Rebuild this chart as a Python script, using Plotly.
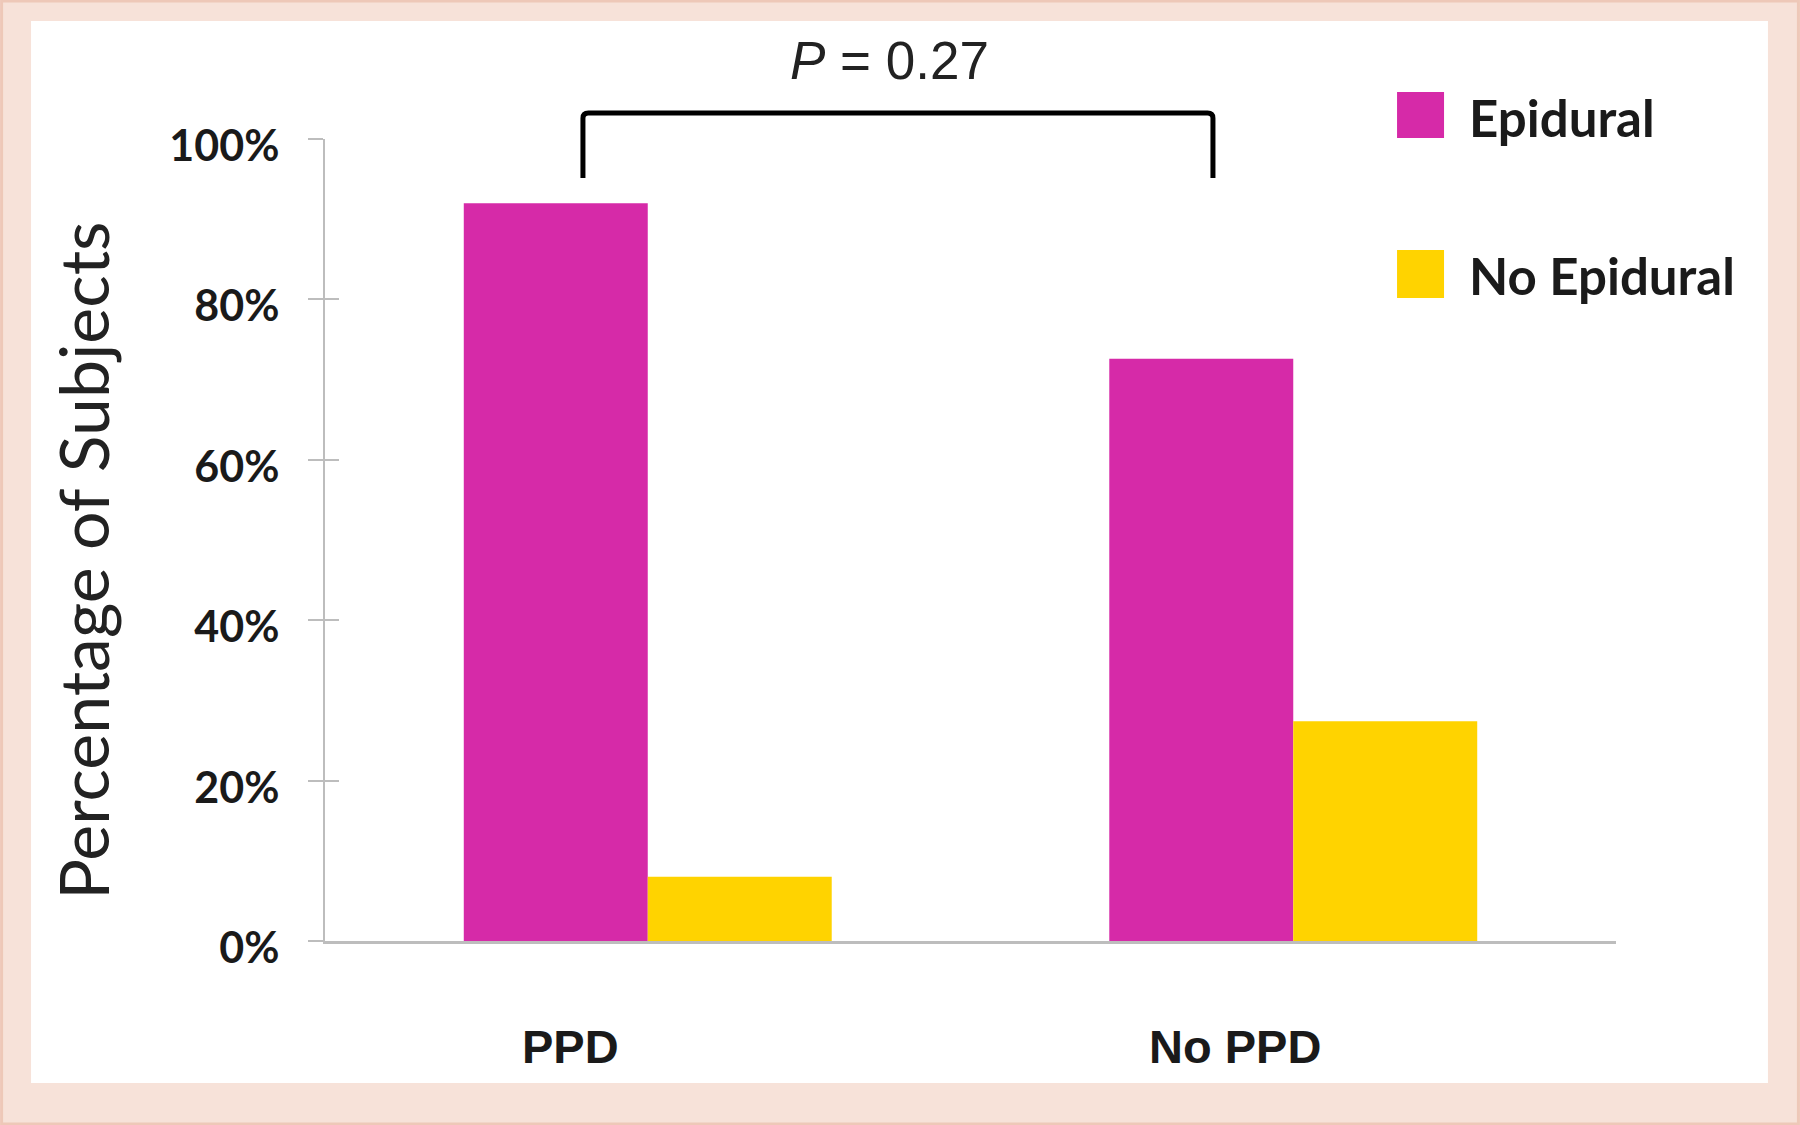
import plotly.graph_objects as go

# data
groups = ["PPD", "No PPD"]
epidural = [92.0, 72.6]
no_epidural = [8.0, 27.4]
series_names = ["Epidural", "No Epidural"]
y_ticks = [0, 20, 40, 60, 80, 100]
y_tick_text = ["0%", "20%", "40%", "60%", "80%", "100%"]
p_text = "<i>P</i> = 0.27"

MAGENTA = "#D62AA8"
YELLOW = "#FFD300"
PINK_BG = "#F7E2D9"
AXIS_GREY = "#BDBDBD"
NARROW = "Liberation Sans Narrow, Arial Narrow, Liberation Sans, sans-serif"
SANS = "Lato, Open Sans, sans-serif"

fig = go.Figure()
fig.add_trace(go.Bar(x=groups, y=epidural, name=series_names[0],
                     marker=dict(color=MAGENTA, line=dict(width=0))))
fig.add_trace(go.Bar(x=groups, y=no_epidural, name=series_names[1],
                     marker=dict(color=YELLOW, line=dict(width=0))))
# empty trace so the overlay axis (inner half of the tick marks) gets drawn
fig.add_trace(go.Scatter(x=[], y=[], yaxis="y2", showlegend=False, hoverinfo="skip"))

shapes = []
# outer edge of the pink frame
shapes.append(dict(type="rect", xref="paper", yref="paper",
                   x0=-0.2505, x1=1.1413, y0=-0.2282, y1=1.1721,
                   fillcolor="rgba(0,0,0,0)", line=dict(color="#EEC8B8", width=3),
                   layer="below"))
# white panel on the pink frame
shapes.append(dict(type="rect", xref="paper", yref="paper",
                   x0=-0.2277, x1=1.1177, y0=-0.177, y1=1.147,
                   fillcolor="white", line=dict(width=0), layer="below"))

# bracket over the two epidural bars
shapes.append(dict(type="path", xref="paper", yref="paper",
                   path="M 0.1998 0.9514 L 0.1998 1.026 Q 0.1998 1.0324 0.2040 1.0324 "
                        "L 0.6836 1.0324 Q 0.6878 1.0324 0.6878 1.026 L 0.6878 0.9514",
                   line=dict(color="black", width=5)))

# hand-made legend swatches
legend_rows = [(1.0012, 1.0586, MAGENTA), (0.8017, 0.8616, YELLOW)]
for y0, y1, col in legend_rows:
    shapes.append(dict(type="rect", xref="paper", yref="paper",
                       x0=0.8304, x1=0.8668, y0=y0, y1=y1,
                       fillcolor=col, line=dict(width=0)))

annotations = []
for name, yc in zip(series_names, [1.0262, 0.8292]):
    annotations.append(dict(text=name, xref="paper", yref="paper", x=0.8846, y=yc,
                            xanchor="left", yanchor="middle", showarrow=False,
                            font=dict(family=SANS, size=51, color="#1a1a1a", weight="bold")))

# category labels sit a little left of the group centres
for g, xpos in zip(groups, [-0.12, 0.91]):
    annotations.append(dict(text=g, xref="x", yref="paper", x=xpos, y=-0.132,
                            xanchor="center", yanchor="middle", showarrow=False,
                            font=dict(family=NARROW, size=47, color="#1a1a1a", weight="bold")))

annotations.append(dict(text=p_text, xref="paper", yref="paper", x=0.4369, y=1.0973,
                        xanchor="center", yanchor="middle", showarrow=False,
                        font=dict(family=NARROW, size=53, color="#222222")))

annotations.append(dict(text="Percentage of Subjects", xref="paper", yref="paper",
                        x=-0.1875, y=0.474, textangle=-90, showarrow=False,
                        xanchor="center", yanchor="middle",
                        font=dict(family=SANS, size=68, color="#222222")))

fig.update_layout(
    width=1800, height=1125,
    margin=dict(l=325, r=184, t=139, b=184),
    paper_bgcolor=PINK_BG,
    plot_bgcolor="white",
    barmode="group",
    bargap=0.43,
    bargroupgap=0,
    showlegend=False,
    shapes=shapes,
    annotations=annotations,
    xaxis=dict(range=[-0.5, 1.5], showticklabels=False, ticks="",
               showline=True, linecolor=AXIS_GREY, linewidth=3,
               showgrid=False, zeroline=False),
    yaxis=dict(range=[0, 100], tickvals=y_ticks, ticktext=y_tick_text,
               ticks="outside", ticklen=15, tickwidth=2, tickcolor=AXIS_GREY,
               showline=True, linecolor=AXIS_GREY, linewidth=2,
               showgrid=False, zeroline=False,
               ticklabelstandoff=20, ticklabelshift=7,
               tickfont=dict(family=SANS, size=43, color="#1a1a1a", weight="bold")),
    yaxis2=dict(range=[0, 100], overlaying="y", side="left", tickvals=y_ticks,
                ticks="inside", ticklen=14, tickwidth=2, tickcolor=AXIS_GREY,
                showticklabels=False, showline=False, showgrid=False, zeroline=False),
)

# drop the default page margin so the figure sits flush in the window
fig.write_html("out.html", config={"displayModeBar": False},
               post_script="document.body.style.margin='0';")
